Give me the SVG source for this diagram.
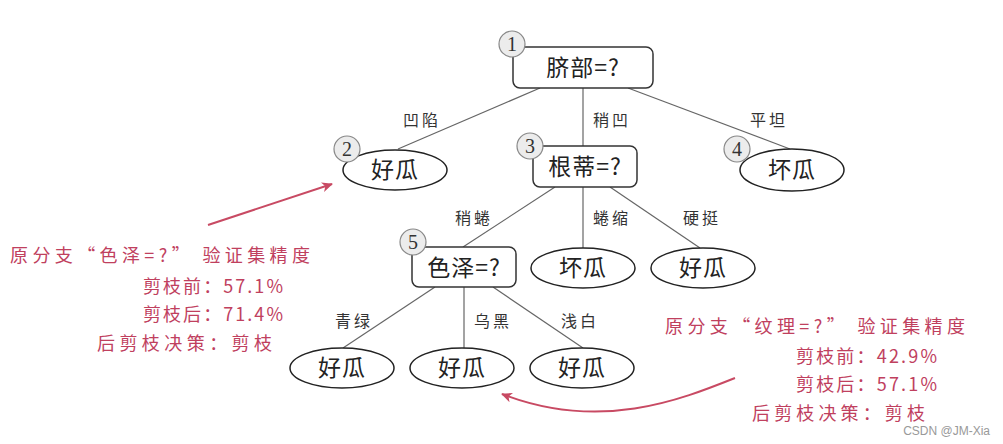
<svg xmlns="http://www.w3.org/2000/svg" width="1003" height="444" viewBox="0 0 1003 444">
<defs>
<style>
.box{fill:#fff;stroke:#333;stroke-width:1.5}
.leaf{fill:#fff;stroke:#222;stroke-width:1.5}
.num{fill:#ececec;stroke:#888;stroke-width:1.2}
.numt{font-family:"Liberation Serif",serif;font-size:20px;fill:#333;text-anchor:middle}
.nt{font-family:"Noto Sans CJK SC",sans-serif;font-size:23px;fill:#222;text-anchor:middle;letter-spacing:1px}
.el{font-family:"Noto Sans CJK SC",sans-serif;font-size:16px;fill:#333;text-anchor:middle;letter-spacing:3px}
.edge{stroke:#666;stroke-width:1.2;fill:none}
.red{font-family:"Noto Sans CJK SC",sans-serif;font-size:18px;fill:#c0405e}
.rarrow{stroke:#c84a63;stroke-width:2;fill:none}
</style>
<marker id="ah" viewBox="0 0 12 12" refX="10" refY="6" markerWidth="12" markerHeight="12" markerUnits="userSpaceOnUse" orient="auto">
<path d="M0,1 L11,6 L0,11 L3,6 Z" fill="#c84a63"/>
</marker>
</defs>
<rect width="1003" height="444" fill="#fff"/>
<g id="connectors">
<line class="edge" x1="540" y1="88" x2="398" y2="149"/>
<line class="edge" x1="583" y1="88" x2="583" y2="146"/>
<line class="edge" x1="628" y1="88" x2="790" y2="149"/>
<line class="edge" x1="555" y1="187" x2="463" y2="247"/>
<line class="edge" x1="583" y1="187" x2="583" y2="248"/>
<line class="edge" x1="610" y1="187" x2="700" y2="248"/>
<line class="edge" x1="435" y1="287" x2="343" y2="348"/>
<line class="edge" x1="464" y1="287" x2="464" y2="348"/>
<line class="edge" x1="493" y1="287" x2="583" y2="348"/>
<text class="el" x="422" y="126">凹陷</text>
<text class="el" x="612" y="126">稍凹</text>
<text class="el" x="769" y="126">平坦</text>
<text class="el" x="474" y="224">稍蜷</text>
<text class="el" x="612" y="224">蜷缩</text>
<text class="el" x="702" y="224">硬挺</text>
<text class="el" x="354" y="327">青绿</text>
<text class="el" x="493" y="327">乌黑</text>
<text class="el" x="580" y="327">浅白</text>
</g>
<g id="n1">
<rect class="box" x="513" y="47" width="140" height="41" rx="7"/>
<text class="nt" x="583" y="76">脐部=?</text>
<circle class="num" cx="512" cy="44" r="13"/>
<text class="numt" x="512" y="51">1</text>
</g>
<g id="n2">
<ellipse class="leaf" cx="395" cy="170" rx="52" ry="20"/>
<text class="nt" x="395" y="178">好瓜</text>
<circle class="num" cx="347" cy="149" r="13"/>
<text class="numt" x="347" y="156">2</text>
</g>
<g id="n3">
<rect class="box" x="533" y="146" width="104" height="41" rx="7"/>
<text class="nt" x="585" y="175">根蒂=?</text>
<circle class="num" cx="530" cy="146" r="13"/>
<text class="numt" x="530" y="153">3</text>
</g>
<g id="n4">
<ellipse class="leaf" cx="792" cy="170" rx="52" ry="21"/>
<text class="nt" x="792" y="178">坏瓜</text>
<circle class="num" cx="737" cy="149" r="13"/>
<text class="numt" x="737" y="156">4</text>
</g>
<g id="n5">
<rect class="box" x="412" y="247" width="104" height="40" rx="7"/>
<text class="nt" x="464" y="276">色泽=?</text>
<circle class="num" cx="413" cy="242" r="13"/>
<text class="numt" x="413" y="249">5</text>
</g>
<g id="n6">
<ellipse class="leaf" cx="583" cy="268" rx="52" ry="20"/>
<text class="nt" x="583" y="276">坏瓜</text>
</g>
<g id="n7">
<ellipse class="leaf" cx="703" cy="268" rx="52" ry="20"/>
<text class="nt" x="703" y="276">好瓜</text>
</g>
<g id="n8">
<ellipse class="leaf" cx="342" cy="368" rx="52" ry="20"/>
<text class="nt" x="342" y="376">好瓜</text>
</g>
<g id="n9">
<ellipse class="leaf" cx="462" cy="368" rx="52" ry="20"/>
<text class="nt" x="462" y="376">好瓜</text>
</g>
<g id="n10">
<ellipse class="leaf" cx="582" cy="368" rx="52" ry="20"/>
<text class="nt" x="582" y="376">好瓜</text>
</g>
<g id="annot-left">
<line class="rarrow" x1="208" y1="225" x2="332" y2="184" marker-end="url(#ah)"/>
<text class="red" x="10" y="262" textLength="300" lengthAdjust="spacing">原分支“色泽=?”  验证集精度</text>
<text class="red" x="143" y="293" textLength="140" lengthAdjust="spacing">剪枝前：57.1%</text>
<text class="red" x="143" y="321" textLength="140" lengthAdjust="spacing">剪枝后：71.4%</text>
<text class="red" x="97" y="350" textLength="175" lengthAdjust="spacing">后剪枝决策：剪枝</text>
</g>
<g id="annot-right">
<path class="rarrow" d="M735,378 C680,400 600,432 502,394" marker-end="url(#ah)"/>
<text class="red" x="665" y="333" textLength="300" lengthAdjust="spacing">原分支“纹理=?”  验证集精度</text>
<text class="red" x="796" y="363" textLength="141" lengthAdjust="spacing">剪枝前：42.9%</text>
<text class="red" x="796" y="391" textLength="141" lengthAdjust="spacing">剪枝后：57.1%</text>
<text class="red" x="752" y="420" textLength="173" lengthAdjust="spacing">后剪枝决策：剪枝</text>
</g>
<text x="990" y="435" text-anchor="end" font-family="Liberation Sans,sans-serif" font-size="12" fill="#999">CSDN @JM-Xia</text>
</svg>
